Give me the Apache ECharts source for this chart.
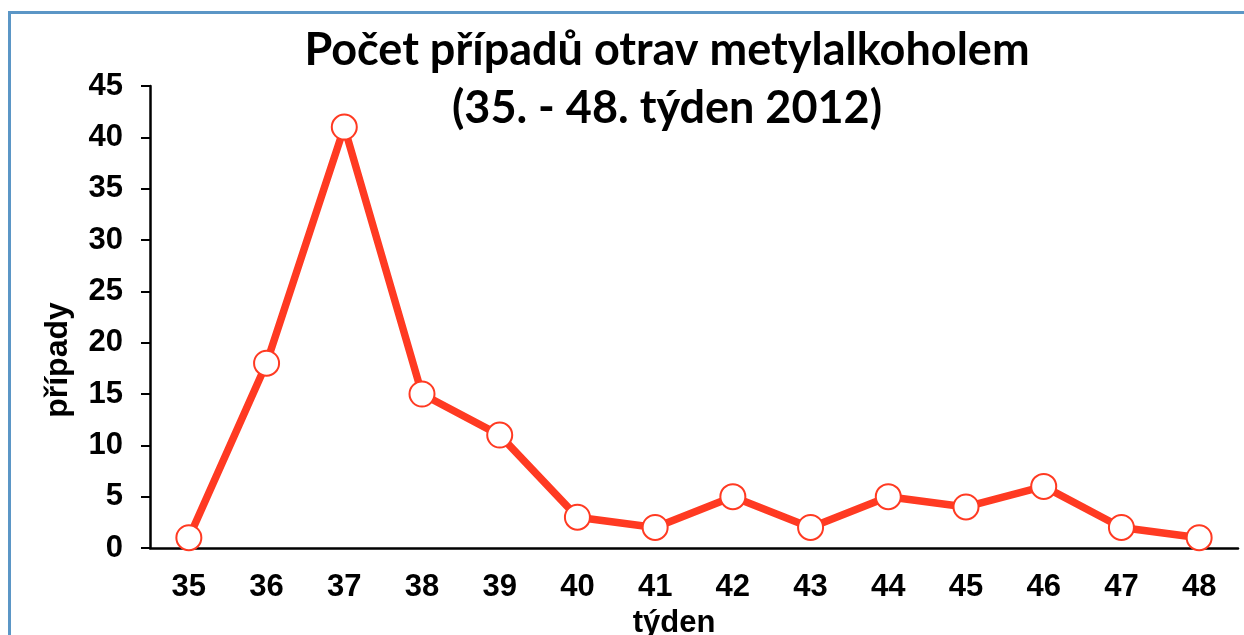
<!DOCTYPE html>
<html><head><meta charset="utf-8">
<script src="https://cdn.jsdelivr.net/npm/echarts@6/dist/echarts.min.js"></script>
<style>html,body{margin:0;padding:0;background:#fff}#c{width:1244px;height:635px}</style>
</head><body><div id="c"></div>
<script>
const weeks = ['35','36','37','38','39','40','41','42','43','44','45','46','47','48'];
const cases = [1, 18, 41, 15, 11, 3, 2, 5, 2, 5, 4, 6, 2, 1];
const yTicks = {min: 0, max: 45, interval: 5};
const titleText = 'Počet případů otrav metylalkoholem\n(35. - 48. týden 2012)';
const xName = 'týden';
const yName = 'případy';

const chart = echarts.init(document.getElementById('c'), null, {renderer: 'canvas'});
const red = '#ff3a22';
chart.setOption({
  animation: false,
  backgroundColor: '#fff',
  title: {
    text: titleText, left: 662, top: 16, textAlign: 'center',
    textStyle: {fontFamily: 'Lato', fontWeight: 'bold', fontSize: 45, lineHeight: 58, color: '#000'}
  },
  graphic: [{
    type: 'rect', silent: true, z: 100,
    shape: {x: 9.5, y: 12.5, width: 1400, height: 800},
    style: {fill: 'none', stroke: '#5b96c6', lineWidth: 3}
  }],
  grid: {left: 150, right: 6, top: 86, bottom: 87, containLabel: false, outerBoundsMode: 'none'},
  xAxis: {
    type: 'category', data: weeks, boundaryGap: true,
    name: xName, nameLocation: 'middle', nameGap: 57,
    nameTextStyle: {fontFamily: 'Liberation Sans', fontWeight: 'bold', fontSize: 31, color: '#000', padding: [0, 40, 0, 0]},
    axisLine: {lineStyle: {color: '#000', width: 2.5}},
    axisTick: {alignWithLabel: false, length: 9, lineStyle: {color: '#000', width: 2}},
    axisLabel: {margin: 24, fontFamily: 'Liberation Sans', fontWeight: 'bold', fontSize: 31, color: '#000'},
    splitLine: {show: false}
  },
  yAxis: {
    type: 'value', min: yTicks.min, max: yTicks.max, interval: yTicks.interval,
    name: yName, nameLocation: 'middle', nameRotate: 90, nameGap: 76,
    nameTextStyle: {fontFamily: 'Liberation Sans', fontWeight: 'bold', fontSize: 32, color: '#000', padding: [0, 86, 0, 0]},
    axisLine: {show: true, lineStyle: {color: '#000', width: 2.5}},
    axisTick: {show: true, length: 9, lineStyle: {color: '#000', width: 2}},
    axisLabel: {margin: 27, fontFamily: 'Liberation Sans', fontWeight: 'bold', fontSize: 31, color: '#000'},
    splitLine: {show: false}
  },
  series: [{
    type: 'line', data: cases,
    lineStyle: {color: red, width: 7.5},
    symbol: 'circle', symbolSize: 25, showAllSymbol: true,
    itemStyle: {color: '#fff', borderColor: red, borderWidth: 2},
    z: 3
  }]
});
</script></body></html>
